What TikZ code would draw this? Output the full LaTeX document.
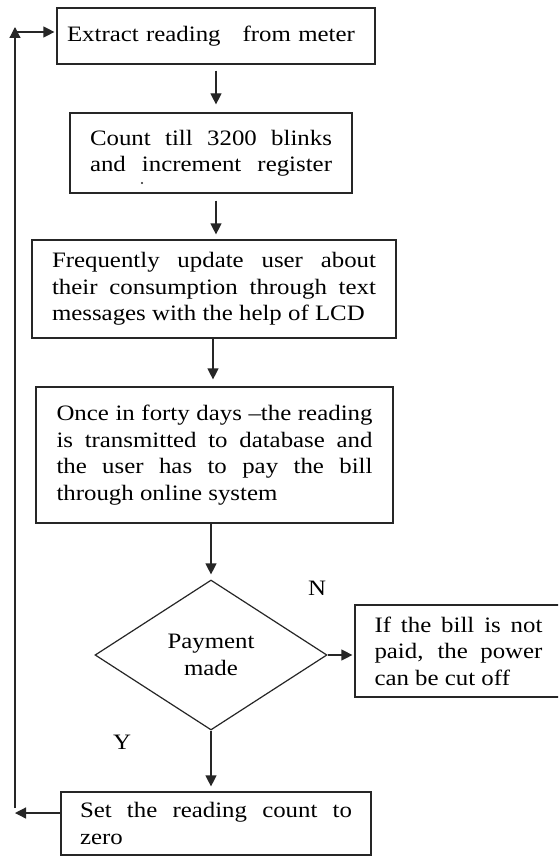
\documentclass[tikz,border=0pt]{standalone}
\usepackage{fontspec}
\setmainfont[FakeStretch=1.13]{Liberation Serif}
\usetikzlibrary{arrows.meta,shapes.geometric}
\newcommand\jline[2]{\makebox[#1][s]{#2}}
\begin{document}
\begin{tikzpicture}[x=1pt,y=-1pt,
  every node/.style={font=\fontsize{22}{26.5}\selectfont, inner sep=0pt},
  box/.style={draw=black!85, line width=1.2pt, rectangle, align=left},
  decision/.style={draw=black!85, line width=1.2pt, diamond, align=center},
  arr/.style={draw=black!85, line width=1.2pt, -{Triangle[length=11pt,width=11pt]}},
  lab/.style={anchor=center}]
\useasboundingbox (0,0) rectangle (558,856);
\fill[white] (0,0) rectangle (558,856);
\clip (0,0) rectangle (558,856);

% boxes
\node[box, minimum width=318pt, minimum height=56pt, text width=298pt] (b1) at (216,36)
  {Extract reading\ \ \ from meter};
\node[box, minimum width=282pt, minimum height=80pt] (b2) at (211,153)
  {\jline{242pt}{Count till 3200 blinks}\\\jline{242pt}{and increment register}};
\fill[black!85] (142,183) circle (1.2pt);
\node[box, minimum width=364pt, minimum height=98pt] (b3) at (214,289)
  {\jline{324pt}{Frequently update user about}\\\jline{324pt}{their consumption through text}\\messages with the help of LCD};
\node[box, minimum width=357pt, minimum height=136pt] (b4) at (214.5,455)
  {\jline{316pt}{Once in forty days --the reading}\\\jline{316pt}{is transmitted to database and}\\\jline{316pt}{the user has to pay the bill}\\through online system};
\node[decision, minimum width=232pt, minimum height=150pt] (d) at (211,655)
  {Payment\\made};
\node[box, minimum width=207pt, minimum height=92pt] (b5) at (458.5,651)
  {\jline{168pt}{If the bill is not}\\\jline{168pt}{paid, the power}\\can be cut off};
\node[box, minimum width=310pt, minimum height=63pt] (b6) at (216,823.5)
  {\jline{272pt}{Set the reading count to}\\zero};

% labels
\node[lab] (n) at (317,588) {N};
\node[lab] (y) at (122,742) {Y};

% arrow x positions
\coordinate (x1) at (216,0);
\coordinate (x3) at (213,0);

\draw[arr, shorten <=6pt, shorten >=8pt] (x1 |- b1.south) -- (x1 |- b2.north);
\draw[arr, shorten <=7pt, shorten >=5pt] (x1 |- b2.south) -- (x1 |- b3.north);
\draw[arr, shorten >=7pt] (x3 |- b3.south) -- (x3 |- b4.north);
\draw[arr, shorten >=5pt] (d.north |- b4.south) -- (d.north);
\draw[arr, shorten >=2pt] (d.east) -- (b5.west |- d.east);
\draw[arr, shorten >=5pt] (d.south) -- (d.south |- b6.north);

% return loop
\coordinate (rl) at (15,813);
\coordinate (rv) at (15,808);
\coordinate (rt) at (15,27);
\coordinate (rh) at (17,32);
\draw[arr] (b6.west |- rl) -- (rl);
\draw[arr] (rv) -- (rt);
\draw[arr, shorten >=2pt] (rh) -- (b1.west |- rh);
\end{tikzpicture}
\end{document}
